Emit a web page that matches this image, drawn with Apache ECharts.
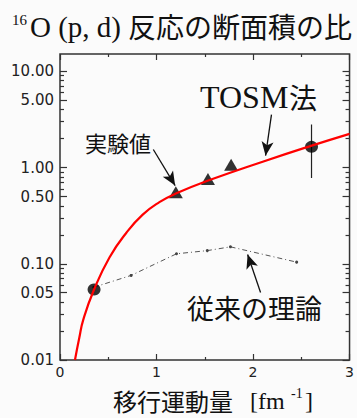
<!DOCTYPE html>
<html>
<head>
<meta charset="utf-8">
<script src="https://cdn.jsdelivr.net/npm/echarts/dist/echarts.min.js"></script>
<style>
html,body{margin:0;padding:0;background:#fbfbfb;}
#c{width:357px;height:418px;}
</style>
</head>
<body>
<div id="c"></div>
<script>
// ---- data ----
const xMajorTicks = [0, 1, 2, 3];
const xMinorTicks = [0.5, 1.5, 2.5];
const yLabelValues = [0.01, 0.05, 0.1, 0.5, 1, 5, 10];
const yMinorValues = [0.02, 0.03, 0.04, 0.06, 0.07, 0.08, 0.09,
                      0.2, 0.3, 0.4, 0.6, 0.7, 0.8, 0.9,
                      2, 3, 4, 6, 7, 8, 9];

// TOSM method curve
const tosmX = [0.155, 0.2, 0.24, 0.353, 0.514, 0.686, 0.857, 1.03, 1.2, 1.55, 2.1, 2.6, 3.0];
const tosmY = [0.010, 0.017, 0.026, 0.054, 0.117, 0.209, 0.324, 0.437, 0.537, 0.741, 1.15, 1.68, 2.24];

// conventional theory
const oldX = [0.35, 0.737, 1.207, 1.526, 1.766, 2.452];
const oldY = [0.057, 0.0757, 0.127, 0.137, 0.150, 0.104];

// experimental values
const triX = [1.2, 1.533, 1.773];
const triY = [0.554, 0.76, 1.07];
const dotX = [0.353, 2.606];
const dotY = [0.054, 1.64];
const errX = 2.606;
const errLow = 0.78;
const errHigh = 2.80;

// annotation arrows [x0, y0, x1, y1] (data space, y real value)
const arrowExp = [0.967, 1.54, 1.193, 0.65];
const arrowTosm = [2.191, 3.55, 2.13, 1.33];
const arrowOld = [2.078, 0.0503, 1.944, 0.125];

const yMinLog = -2, yMaxLog = 1.18;
const L = Math.log10;
const pairs = (xs, ys) => xs.map((x, i) => [x, L(ys[i])]);

const axisColor = '#333';
const tickStyle = { color: axisColor, width: 1.2 };

function xAx(pos, vals, len, labels) {
  return {
    type: 'value', min: 0, max: 3, position: pos,
    axisLine: { show: false, onZero: false },
    splitLine: { show: false },
    axisTick: { show: true, inside: true, length: len, customValues: vals, lineStyle: tickStyle },
    axisLabel: labels ? {
      show: true, customValues: vals, margin: 5,
      fontFamily: 'DejaVu Sans', fontSize: 14, color: '#222',
      formatter: v => String(Math.round(v))
    } : { show: false }
  };
}
function yAx(pos, vals, len, labels) {
  return {
    type: 'value', min: yMinLog, max: yMaxLog, position: pos,
    axisLine: { show: false, onZero: false },
    splitLine: { show: false },
    axisTick: { show: true, inside: true, length: len, customValues: vals.map(L), lineStyle: tickStyle },
    axisLabel: labels ? {
      show: true, customValues: vals.map(L), margin: 6,
      fontFamily: 'DejaVu Sans', fontSize: 15, color: '#222',
      formatter: v => Math.pow(10, v).toFixed(2)
    } : { show: false }
  };
}
function arrow(a) {
  return [{ coord: [a[0], L(a[1])] }, { coord: [a[2], L(a[3])] }];
}

const chart = echarts.init(document.getElementById('c'), null, { renderer: 'svg' });
const serif = 'Liberation Serif';
const jp = 'Noto Sans CJK JP';
function txt(x, y, s, size, fam, align) {
  return {
    type: 'text', x: x, y: y, silent: true,
    style: { text: s, font: size + 'px "' + fam + '"', fill: '#111', lineHeight: size,
             align: align || 'left', verticalAlign: 'middle' }
  };
}

chart.setOption({
  backgroundColor: '#fbfbfb',
  animation: false,
  grid: { left: 60, right: 5, top: 54, bottom: 58, containLabel: false,
          show: true, borderColor: axisColor, borderWidth: 1.5, backgroundColor: 'transparent' },
  xAxis: [
    xAx('bottom', xMajorTicks, 6, true),
    xAx('bottom', xMinorTicks, 3, false),
    xAx('top', xMajorTicks, 6, false),
    xAx('top', xMinorTicks, 3, false)
  ],
  yAxis: [
    yAx('left', yLabelValues, 7, true),
    yAx('left', yMinorValues, 4, false),
    yAx('right', yLabelValues, 7, false),
    yAx('right', yMinorValues, 4, false)
  ],
  graphic: [
    txt(12, 20, '16', 15, serif),
    txt(30, 27, 'O (p, d)', 29, serif),
    txt(128, 26, '反応の断面積の比', 28, jp),
    txt(113, 400, '移行運動量', 24, jp),
    txt(250, 401, '[fm', 24, serif),
    txt(291, 393, '-1', 14, serif),
    txt(305, 401, ']', 24, serif),
    txt(200, 97, 'TOSM', 32, serif),
    txt(289, 97, '法', 28, jp),
    txt(85, 142, '実験値', 22, jp),
    txt(187, 307, '従来の理論', 27, jp)
  ],
  series: [
    {
      name: 'old', type: 'line', z: 2,
      data: pairs(oldX, oldY),
      symbol: 'circle', symbolSize: 3,
      itemStyle: { color: '#444' },
      lineStyle: { color: '#555', width: 1, type: [5, 3, 1, 3] },
      markLine: {
        silent: true, symbol: ['none', 'arrow'], symbolSize: [9, 14],
        label: { show: false },
        lineStyle: { color: '#111', width: 1.3, type: 'solid' },
        data: [arrow(arrowExp), arrow(arrowTosm), arrow(arrowOld)]
      }
    },
    {
      name: 'err', type: 'line', z: 3,
      data: [[errX, L(errLow)], [errX, L(errHigh)]],
      symbol: 'none',
      lineStyle: { color: '#222', width: 1.2 }
    },
    {
      name: 'tri', type: 'scatter', z: 4,
      data: pairs(triX, triY),
      symbol: 'triangle', symbolSize: [14, 12],
      itemStyle: { color: '#000' }
    },
    {
      name: 'dot', type: 'scatter', z: 4,
      data: pairs(dotX, dotY),
      symbol: 'circle', symbolSize: [13, 12],
      itemStyle: { color: '#000' }
    },
    {
      name: 'tosm', type: 'line', z: 5,
      data: pairs(tosmX, tosmY),
      smooth: 0.5, symbol: 'none',
      lineStyle: { color: '#ff0000', width: 2.2 }
    }
  ]
});
</script>
</body>
</html>
